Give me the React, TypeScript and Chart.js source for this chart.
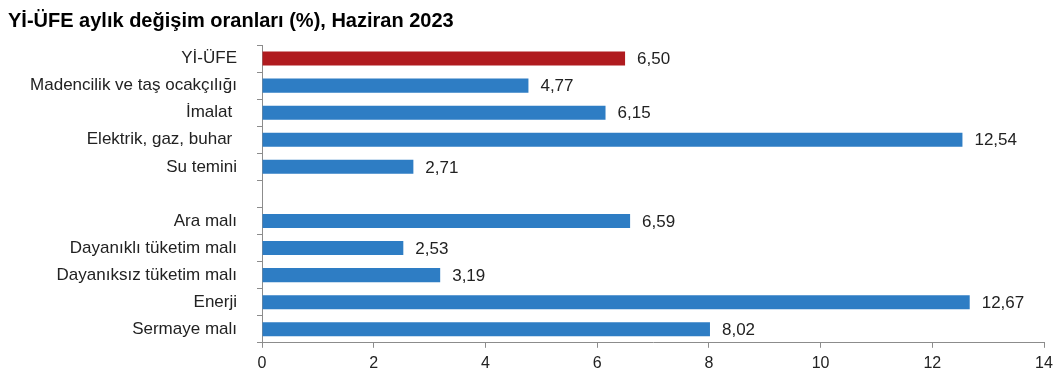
import React, { useEffect, useRef } from "react";
import { Chart, registerables } from "chart.js";

Chart.register(...registerables);

const titleText = "Yİ-ÜFE aylık değişim oranları (%), Haziran 2023";
const categories = [
  "Yİ-ÜFE",
  "Madencilik ve taş ocakçılığı",
  "İmalat ",
  "Elektrik, gaz, buhar ",
  "Su temini",
  "",
  "Ara malı",
  "Dayanıklı tüketim malı",
  "Dayanıksız tüketim malı",
  "Enerji",
  "Sermaye malı",
];
const values: (number | null)[] = [6.5, 4.77, 6.15, 12.54, 2.71, null, 6.59, 2.53, 3.19, 12.67, 8.02];
const barColors = ["#B01B1F", "#2E7DC4", "#2E7DC4", "#2E7DC4", "#2E7DC4", "#2E7DC4", "#2E7DC4", "#2E7DC4", "#2E7DC4", "#2E7DC4", "#2E7DC4"];
const xTicks = [0, 2, 4, 6, 8, 10, 12, 14];

const FONT = "'Liberation Sans', Arial, sans-serif";
const AXIS = "#8C8C8C";
const TEXT = "#222222";

const valueLabels = {
  id: "valueLabels",
  afterDatasetsDraw(chart: any) {
    const ctx = chart.ctx;
    const meta = chart.getDatasetMeta(0);
    ctx.save();
    ctx.font = `17px ${FONT}`;
    ctx.fillStyle = TEXT;
    ctx.textAlign = "left";
    ctx.textBaseline = "middle";
    meta.data.forEach((bar: any, i: number) => {
      const v = values[i];
      if (v == null) return;
      ctx.fillText(v.toFixed(2).replace(".", ","), bar.x + 12, bar.y + 1);
    });
    ctx.restore();
  },
};

export default function App() {
  const ref = useRef<HTMLCanvasElement>(null);
  useEffect(() => {
    document.body.style.margin = "0";
    const chart = new Chart(ref.current!, {
      type: "bar",
      data: {
        labels: categories,
        datasets: [
          {
            data: values,
            backgroundColor: barColors,
            barPercentage: 0.52,
            categoryPercentage: 1,
          },
        ],
      },
      plugins: [valueLabels],
      options: {
        indexAxis: "y",
        animation: false,
        responsive: false,
        maintainAspectRatio: false,
        layout: { padding: { left: 8, right: 20, top: 9, bottom: 9 } },
        plugins: {
          legend: { display: false },
          tooltip: { enabled: false },
          title: {
            display: true,
            text: titleText,
            align: "start",
            color: "#000",
            font: { family: FONT, size: 20, weight: "bold" },
            padding: { top: 0, bottom: 12 },
          },
        },
        scales: {
          x: {
            min: 0,
            max: 14,
            afterBuildTicks(scale: any) {
              scale.ticks = xTicks.map((v) => ({ value: v }));
            },
            grid: { drawOnChartArea: false, drawTicks: true, tickLength: 5, color: AXIS },
            border: { display: true, color: AXIS },
            ticks: { color: TEXT, font: { family: FONT, size: 16 }, padding: 6, maxRotation: 0 },
          },
          y: {
            afterFit(scale: any) {
              scale.width = 254;
            },
            grid: { drawOnChartArea: false, drawTicks: true, tickLength: 5, color: AXIS, offset: true },
            border: { display: true, color: AXIS },
            ticks: { color: TEXT, font: { family: FONT, size: 17 }, padding: 20, autoSkip: false },
          },
        },
      },
    } as any);
    return () => chart.destroy();
  }, []);
  return (
    <div style={{ position: "fixed", left: 0, top: 0, width: 1064, height: 388, background: "#fff" }}>
      <canvas ref={ref} width={1064} height={388} />
    </div>
  );
}
